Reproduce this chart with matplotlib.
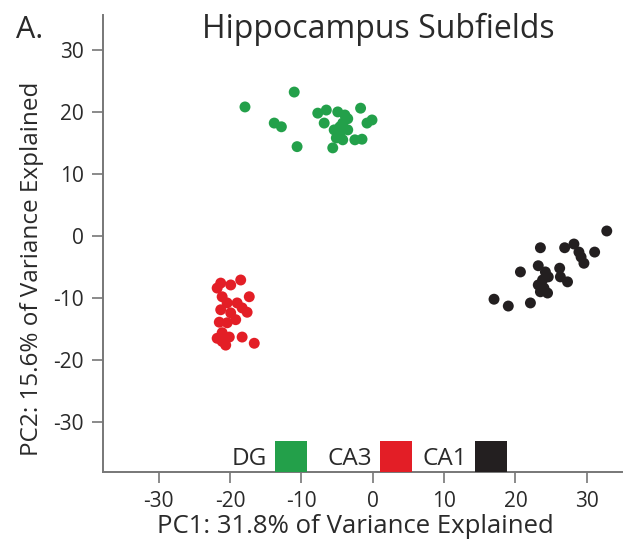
import matplotlib
matplotlib.use("Agg")
import matplotlib.pyplot as plt
from matplotlib.patches import Rectangle

plt.rcParams['font.family'] = ['Open Sans', 'DejaVu Sans']
plt.rcParams['axes.unicode_minus'] = False

# PCA scores
dg_pc1 = [-17.9, -11.0, -13.8, -12.8, -10.6, -7.7, -6.5, -6.8, -4.9, -3.9, -3.5, -4.2,
          -1.7, -0.8, -0.1, -5.4, -4.6, -3.5, -5.1, -4.2, -2.5, -1.5, -5.6, -4.6]
dg_pc2 = [20.8, 23.2, 18.2, 17.6, 14.4, 19.8, 20.3, 18.2, 20.0, 19.5, 18.9, 18.2,
          20.6, 18.2, 18.7, 17.1, 16.6, 17.1, 15.8, 15.5, 15.5, 15.6, 14.2, 17.6]

ca3_pc1 = [-18.5, -21.3, -19.9, -21.8, -17.3, -21.1, -20.4, -19.0, -21.3, -18.3, -17.6, -19.9,
           -21.5, -19.2, -20.4, -21.1, -20.1, -18.3, -21.8, -16.6, -21.1, -20.6]
ca3_pc2 = [-7.1, -7.6, -7.9, -8.4, -9.8, -9.8, -10.8, -10.8, -11.9, -11.6, -12.3, -12.4,
           -13.9, -13.5, -14.0, -15.6, -16.3, -16.3, -16.5, -17.3, -17.0, -17.6]

ca1_pc1 = [32.8, 23.5, 26.9, 28.2, 28.9, 29.2, 29.6, 31.1, 20.7, 23.2, 26.2, 24.2,
           24.6, 23.8, 26.3, 27.3, 23.2, 24.0, 23.5, 24.5, 17.0, 19.0, 22.1]
ca1_pc2 = [0.8, -1.9, -1.9, -1.3, -2.6, -3.4, -4.4, -2.6, -5.8, -4.8, -5.2, -5.8,
           -6.6, -7.1, -6.6, -7.4, -7.9, -8.4, -9.0, -9.2, -10.2, -11.3, -10.8]

groups = ["DG", "CA3", "CA1"]
colors = ["#23a04a", "#e31e26", "#231f20"]
ticks = [-30, -20, -10, 0, 10, 20, 30]

fig = plt.figure(figsize=(6.23, 5.41), dpi=100)
ax = fig.add_axes([0.1653, 0.1275, 0.8327, 0.8445])

for xs, ys, c in zip([dg_pc1, ca3_pc1, ca1_pc1], [dg_pc2, ca3_pc2, ca1_pc2], colors):
    ax.scatter(xs, ys, s=62, color=c, edgecolors='none', zorder=3)

ax.set_xlim(-37.8, 34.9)
ax.set_ylim(-38.06, 35.6)
ax.set_xticks(ticks)
ax.set_yticks(ticks)
ax.tick_params(direction='out', length=8, width=1.2, color='#777777',
               labelsize=15, labelcolor='#2a2a2a', pad=6)
for side in ['top', 'right']:
    ax.spines[side].set_visible(False)
for side in ['left', 'bottom']:
    ax.spines[side].set_color('#777777')
    ax.spines[side].set_linewidth(1.4)

ax.set_xlabel("PC1: 31.8% of Variance Explained", fontsize=18.5, color='#2a2a2a')
ax.set_ylabel("PC2: 15.6% of Variance Explained", fontsize=17.5, color='#2a2a2a')
ax.xaxis.set_label_coords(0.486, -0.12, transform=ax.transAxes)
ax.yaxis.set_label_coords(-0.137, 0.445, transform=ax.transAxes)
ax.xaxis.label.set_va('center')
ax.yaxis.label.set_va('center')

fig.text(0.6075, 0.93, "Hippocampus Subfields", fontsize=23, color='#2a2a2a', ha='center')
fig.text(0.025, 0.93, "A.", fontsize=22, color='#2a2a2a')

# legend swatches along the bottom axis
box_x = [0.331, 0.534, 0.717]
for name, c, bx in zip(groups, colors, box_x):
    ax.add_patch(Rectangle((bx, 0.0), 0.0617, 0.068, transform=ax.transAxes,
                           facecolor=c, edgecolor='none', zorder=4))
    ax.text(bx - 0.015, 0.015, name, transform=ax.transAxes, ha='right', va='baseline',
            fontsize=17.5, color='#2a2a2a')

fig.savefig("out.png", dpi=100)
